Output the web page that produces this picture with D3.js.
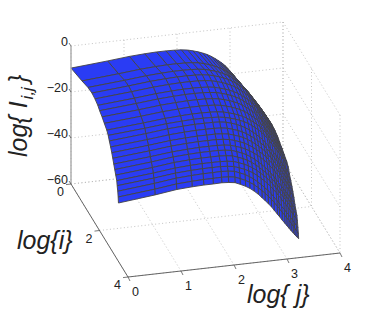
<!DOCTYPE html>
<html>
<head>
<meta charset="utf-8">
<script src="https://cdnjs.cloudflare.com/ajax/libs/d3/7.8.5/d3.min.js"></script>
<style>
  body { margin: 0; background: #fff; }
  text { font-family: "Liberation Sans", sans-serif; fill: #222; }
</style>
</head>
<body>
<script>
// surface grid lines
const iGrid = [0, 0.77, 1.19, 1.47, 1.68, 1.88, 2.01, 2.18, 2.34, 2.51, 2.61, 2.69, 2.78, 2.86, 2.93,
  3.00, 3.07, 3.14, 3.21, 3.24, 3.28, 3.31, 3.33];
const jGrid = [0, 0.69, 1.10, 1.39, 1.61, 1.79, 1.95, 2.08, 2.20, 2.30, 2.40, 2.48, 2.56, 2.64, 2.71,
  2.77, 2.83, 2.89, 2.94, 3.00, 3.04, 3.09, 3.14, 3.18, 3.22, 3.26, 3.30, 3.33, 3.37, 3.40];

// log{ I_i,j }, one row per i, one column per j
const surfaceZ = [
  [-9.6,-8.3,-7.4,-7,-6.8,-6.8,-6.9,-7.1,-7.5,-8.1,-8.8,-9.5,-10.3,-11.3,-12.4,-13.4,-14.5,-15.7,-17,-18.7,-19.9,-21.5,-23.1,-24.4,-25.7,-27.1,-28.6,-29.7,-31.2,-32.4],
  [-7.4,-6.1,-5.2,-4.8,-4.6,-4.6,-4.7,-4.9,-5.3,-5.9,-6.6,-7.3,-8.1,-9.1,-10.2,-11.2,-12.3,-13.5,-14.8,-16.5,-17.7,-19.3,-20.9,-22.2,-23.5,-24.9,-26.4,-27.5,-29,-30.2],
  [-6,-4.7,-3.8,-3.4,-3.2,-3.2,-3.3,-3.5,-3.9,-4.5,-5.2,-5.9,-6.7,-7.7,-8.8,-9.8,-10.9,-12.1,-13.4,-15.1,-16.3,-17.9,-19.5,-20.8,-22.1,-23.5,-25,-26.1,-27.6,-28.8],
  [-5.6,-4.3,-3.4,-3,-2.8,-2.8,-2.9,-3.1,-3.5,-4.1,-4.8,-5.5,-6.3,-7.3,-8.4,-9.4,-10.5,-11.7,-13,-14.7,-15.9,-17.5,-19.1,-20.4,-21.7,-23.1,-24.6,-25.7,-27.2,-28.4],
  [-6,-4.7,-3.8,-3.4,-3.2,-3.2,-3.3,-3.5,-3.9,-4.5,-5.2,-5.9,-6.7,-7.7,-8.8,-9.8,-10.9,-12.1,-13.4,-15.1,-16.3,-17.9,-19.5,-20.8,-22.1,-23.5,-25,-26.1,-27.6,-28.8],
  [-6.8,-5.5,-4.6,-4.2,-4,-4,-4.1,-4.3,-4.7,-5.3,-6,-6.7,-7.5,-8.5,-9.6,-10.6,-11.7,-12.9,-14.2,-15.9,-17.1,-18.7,-20.3,-21.6,-22.9,-24.3,-25.8,-26.9,-28.4,-29.6],
  [-7.8,-6.5,-5.6,-5.2,-5,-5,-5.1,-5.3,-5.7,-6.3,-7,-7.7,-8.5,-9.5,-10.6,-11.6,-12.7,-13.9,-15.2,-16.9,-18.1,-19.7,-21.3,-22.6,-23.9,-25.3,-26.8,-27.9,-29.4,-30.6],
  [-8.8,-7.5,-6.6,-6.2,-6,-6,-6.1,-6.3,-6.7,-7.3,-8,-8.7,-9.5,-10.5,-11.6,-12.6,-13.7,-14.9,-16.2,-17.9,-19.1,-20.7,-22.3,-23.6,-24.9,-26.3,-27.8,-28.9,-30.4,-31.6],
  [-10,-8.7,-7.8,-7.4,-7.2,-7.2,-7.3,-7.5,-7.9,-8.5,-9.2,-9.9,-10.7,-11.7,-12.8,-13.8,-14.9,-16.1,-17.4,-19.1,-20.3,-21.9,-23.5,-24.8,-26.1,-27.5,-29,-30.1,-31.6,-32.8],
  [-11.2,-9.9,-9,-8.6,-8.4,-8.4,-8.5,-8.7,-9.1,-9.7,-10.4,-11.1,-11.9,-12.9,-14,-15,-16.1,-17.3,-18.6,-20.3,-21.5,-23.1,-24.7,-26,-27.3,-28.7,-30.2,-31.3,-32.8,-34],
  [-12.5,-11.2,-10.3,-9.9,-9.7,-9.7,-9.8,-10,-10.4,-11,-11.7,-12.4,-13.2,-14.2,-15.3,-16.3,-17.4,-18.6,-19.9,-21.6,-22.8,-24.4,-26,-27.3,-28.6,-30,-31.5,-32.6,-34.1,-35.3],
  [-14.1,-12.7,-11.7,-11.3,-11.1,-11.1,-11.1,-11.3,-11.7,-12.4,-13.2,-14,-15,-16.2,-17.4,-18.5,-19.7,-21,-22.4,-24.1,-25.3,-26.9,-28.5,-29.8,-31,-32.4,-33.9,-34.9,-36.4,-37.6],
  [-15.8,-14.4,-13.4,-13,-12.8,-12.8,-12.8,-13,-13.4,-14.1,-14.9,-15.7,-16.7,-17.9,-19.1,-20.2,-21.4,-22.7,-24.1,-25.8,-27,-28.6,-30.2,-31.5,-32.7,-34.1,-35.6,-36.6,-38.1,-39.3],
  [-17.5,-16.1,-15.1,-14.7,-14.5,-14.5,-14.5,-14.7,-15.1,-15.8,-16.6,-17.4,-18.4,-19.6,-20.8,-21.9,-23.1,-24.4,-25.8,-27.5,-28.7,-30.3,-31.9,-33.2,-34.4,-35.8,-37.3,-38.3,-39.8,-41],
  [-19.2,-17.8,-16.8,-16.4,-16.2,-16.2,-16.2,-16.4,-16.8,-17.5,-18.3,-19.1,-20.1,-21.3,-22.5,-23.6,-24.8,-26.1,-27.5,-29.2,-30.4,-32,-33.6,-34.9,-36.1,-37.5,-39,-40,-41.5,-42.7],
  [-21,-19.6,-18.6,-18.2,-18,-18,-18,-18.2,-18.6,-19.3,-20.1,-20.9,-21.9,-23.1,-24.3,-25.4,-26.6,-27.9,-29.3,-31,-32.2,-33.8,-35.4,-36.7,-37.9,-39.3,-40.8,-41.8,-43.3,-44.5],
  [-22.7,-21.2,-20.1,-19.7,-19.5,-19.5,-19.5,-19.7,-20.1,-20.9,-21.8,-22.7,-23.8,-25.1,-26.5,-27.7,-29,-30.4,-31.8,-33.6,-34.8,-36.4,-38,-39.2,-40.5,-41.8,-43.2,-44.3,-45.7,-46.8],
  [-24.4,-22.9,-21.8,-21.4,-21.2,-21.2,-21.2,-21.4,-21.8,-22.6,-23.5,-24.4,-25.5,-26.8,-28.2,-29.4,-30.7,-32.1,-33.5,-35.3,-36.5,-38.1,-39.7,-40.9,-42.2,-43.5,-44.9,-46,-47.4,-48.5],
  [-26.1,-24.6,-23.5,-23.1,-22.9,-22.9,-22.9,-23.1,-23.5,-24.3,-25.2,-26.1,-27.2,-28.5,-29.9,-31.1,-32.4,-33.8,-35.2,-37,-38.2,-39.8,-41.4,-42.6,-43.9,-45.2,-46.6,-47.7,-49.1,-50.2],
  [-28,-26.5,-25.4,-25,-24.8,-24.8,-24.8,-25,-25.4,-26.2,-27.1,-28,-29.1,-30.4,-31.8,-33,-34.3,-35.7,-37.1,-38.9,-40.1,-41.7,-43.3,-44.5,-45.8,-47.1,-48.5,-49.6,-51,-52.1],
  [-30,-28.4,-27.2,-26.8,-26.6,-26.6,-26.5,-26.7,-27.1,-28,-29,-30.1,-31.3,-32.8,-34.3,-35.6,-37,-38.5,-40,-41.8,-43,-44.6,-46.1,-47.4,-48.6,-49.9,-51.3,-52.3,-53.7,-54.8],
  [-32.2,-30.6,-29.4,-29,-28.8,-28.8,-28.7,-28.9,-29.3,-30.2,-31.2,-32.3,-33.5,-35,-36.5,-37.8,-39.2,-40.7,-42.2,-44,-45.2,-46.8,-48.3,-49.6,-50.8,-52.1,-53.5,-54.5,-55.9,-57],
  [-34.6,-32.9,-31.6,-31.2,-31,-31,-30.9,-31.1,-31.5,-32.5,-33.6,-34.7,-36.1,-37.7,-39.4,-40.8,-42.3,-43.9,-45.4,-47.3,-48.5,-50.1,-51.6,-52.8,-54,-55.2,-56.3,-57.2,-58.2,-59]
];

const iTicks = [0, 2, 4];
const jTicks = [0, 1, 2, 3, 4];
const zTicks = [0, -20, -40, -60];

const width = 374, height = 312;

// oblique axes: each data axis pushes the screen point along its own direction
const iToX = d3.scaleLinear().domain([0, 4]).range([0, 57]);
const iToY = d3.scaleLinear().domain([0, 4]).range([0, 93]);
const jToX = d3.scaleLinear().domain([0, 4]).range([0, 212]);
const jToY = d3.scaleLinear().domain([0, 4]).range([0, -24]);
const zToY = d3.scaleLinear().domain([-60, 0]).range([184, 46]);

const project = (i, j, z) => [71 + iToX(i) + jToX(j), zToY(z) + iToY(i) + jToY(j)];
const path = d3.line();

const svg = d3.select("body")
  .append("svg")
  .attr("width", width)
  .attr("height", height)
  .style("display", "block");

// Back walls and floor grid
const grid = svg.append("g")
  .attr("fill", "none")
  .attr("stroke", "#b4b4b4")
  .attr("stroke-width", 0.8)
  .attr("stroke-dasharray", "1 2.5");

const gridLine = (a, b) => grid.append("path").attr("d", path([project(...a), project(...b)]));

zTicks.forEach(z => {
  gridLine([0, 0, z], [0, 4, z]);
  gridLine([0, 4, z], [4, 4, z]);
});
jTicks.forEach(j => {
  gridLine([0, j, 0], [0, j, -60]);
  gridLine([0, j, -60], [4, j, -60]);
});
iTicks.forEach(i => {
  gridLine([i, 4, 0], [i, 4, -60]);
  gridLine([i, 0, -60], [i, 4, -60]);
});

// Surface, painted far to near
const surface = svg.append("g")
  .attr("fill", "#2a3cf4")
  .attr("stroke", "#444")
  .attr("stroke-width", 0.9)
  .attr("stroke-linejoin", "round");

for (let r = 0; r < iGrid.length - 1; r++) {
  for (let c = jGrid.length - 2; c >= 0; c--) {
    surface.append("path").attr("d", path([
      project(iGrid[r], jGrid[c], surfaceZ[r][c]),
      project(iGrid[r], jGrid[c + 1], surfaceZ[r][c + 1]),
      project(iGrid[r + 1], jGrid[c + 1], surfaceZ[r + 1][c + 1]),
      project(iGrid[r + 1], jGrid[c], surfaceZ[r + 1][c])
    ]) + "Z");
  }
}

// Axes
const axes = svg.append("g").attr("fill", "none");
const axisLine = (a, b, color, w) => axes.append("path")
  .attr("d", path([a, b]))
  .attr("stroke", color)
  .attr("stroke-width", w);

axisLine(project(0, 0, 0), project(0, 0, -60), "#aaa", 1.4);
axisLine(project(0, 0, -60), project(4, 0, -60), "#555", 0.9);
axisLine(project(4, 0, -60), project(4, 4, -60), "#555", 0.9);

const tickLabel = (x, y, label) => svg.append("text")
  .attr("x", x)
  .attr("y", y)
  .attr("font-size", 12.5)
  .attr("text-anchor", "end")
  .text(label);

zTicks.forEach(z => {
  const [x, y] = project(0, 0, z);
  axisLine([x, y], [x - 2, y - 3], "#555", 0.8);
  tickLabel(x - 3, y - 0.5, z === 0 ? "0" : "\u2212" + Math.abs(z));
});
iTicks.forEach(i => {
  const [x, y] = project(i, 0, -60);
  axisLine([x, y], [x - 5, y + 0.6], "#555", 0.8);
  tickLabel(x - 7, y + 12, i);
});
jTicks.forEach(j => {
  const [x, y] = project(4, j, -60);
  axisLine([x, y], [x + 2, y + 4], "#555", 0.8);
  tickLabel(x + 11, y + 19, j);
});

// Axis titles
const title = (x, y, size) => svg.append("text")
  .attr("x", x)
  .attr("y", y)
  .attr("font-size", size)
  .attr("font-style", "italic");

const zTitle = title(0, 0, 25).attr("transform", "translate(27,157) rotate(-90)");
zTitle.append("tspan").text("log{ I");
zTitle.append("tspan").attr("dy", 6).attr("dx", 2).attr("font-size", 17).text("i,j");
zTitle.append("tspan").attr("dy", -6).attr("dx", 4).text("}");

title(17, 249, 25).text("log{i}");
title(247, 303, 25).text("log{ j}");
</script>
</body>
</html>
